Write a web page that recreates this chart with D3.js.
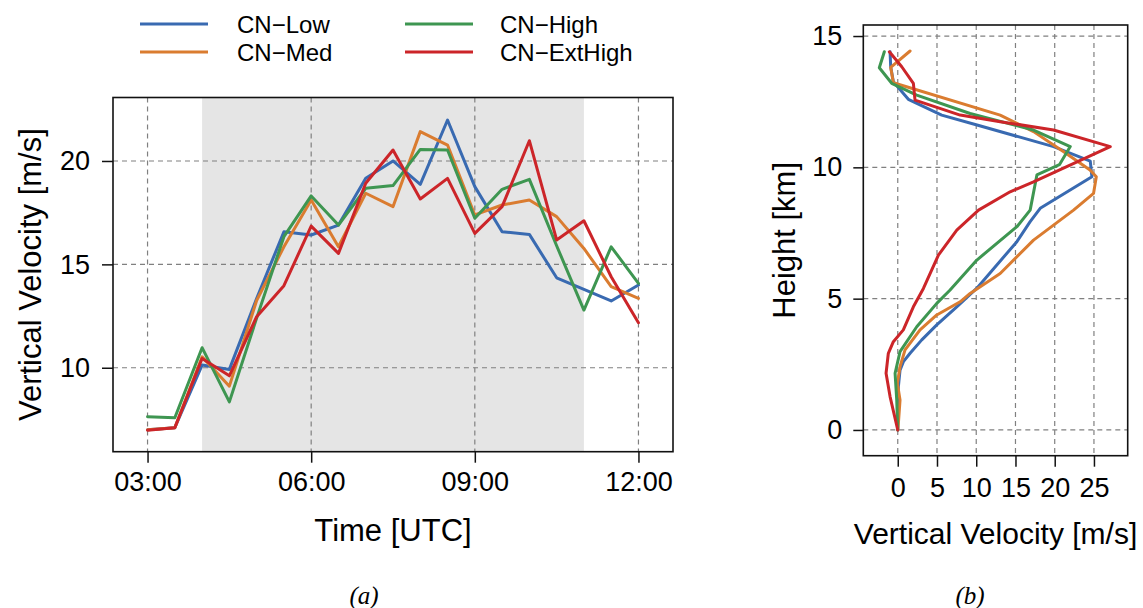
<!DOCTYPE html>
<html>
<head>
<meta charset="utf-8">
<script src="https://cdn.jsdelivr.net/npm/d3@7"></script>
<style>
  body { margin: 0; background: #fff; }
  text { font-family: "Liberation Sans", Arial, Helvetica, sans-serif; fill: #000; }
</style>
</head>
<body>
<svg id="fig" width="1143" height="608"></svg>
<script>
// ---- (a) time series of maximum vertical velocity ----
const times = ["03:00","03:30","04:00","04:30","05:00","05:30","06:00","06:30","07:00","07:30",
               "08:00","08:30","09:00","09:30","10:00","10:30","11:00","11:30","12:00"];
const cnLow     = [7.0, 7.1, 10.13, 9.92, 13.35, 16.58, 16.42, 16.9, 19.16, 20.0,
                   18.87, 21.98, 18.76, 16.58, 16.45, 14.35, 13.79, 13.23, 14.0];
const cnMed     = [7.0, 7.1, 10.53, 9.11, 13.25, 15.85, 18.11, 15.85, 18.44, 17.79,
                   21.42, 20.77, 17.39, 17.87, 18.11, 17.31, 15.77, 13.92, 13.35];
const cnHigh    = [7.63, 7.58, 10.97, 8.35, 12.4, 16.34, 18.31, 16.9, 18.68, 18.81,
                   20.56, 20.53, 17.23, 18.63, 19.11, 15.9, 12.79, 15.85, 14.08];
const cnExtHigh = [6.98, 7.10, 10.45, 9.61, 12.47, 13.97, 16.85, 15.53, 18.92, 20.53,
                   18.16, 19.16, 16.5, 17.79, 20.98, 16.18, 17.11, 14.4, 12.18];

const seriesNames  = ["CN\u2212Low", "CN\u2212Med", "CN\u2212High", "CN\u2212ExtHigh"];
const seriesColors = ["#396AB1", "#DA7C30", "#3E9651", "#CC2529"];

const timeTicks = ["03:00", "06:00", "09:00", "12:00"];
const shadeSpan = ["04:00", "11:00"];
const velTicks  = [10, 15, 20];

// ---- (b) vertical profiles: velocity (m/s) against height (km) ----
const lowW  = [0, 0, 0.08, 0.29, 0.72, 1.57, 3.06, 4.97, 7.52, 10.08, 15.18, 16.87, 18.15, 24.74, 24.53, 19.85, 10.1, 5.6, 1.35, -0.56, -0.9, -0.98];
const lowZ  = [0, 0.89, 1.65, 2.28, 2.6, 2.92, 3.43, 4.0, 4.69, 5.4, 7.17, 7.93, 8.44, 9.64, 10.24, 10.79, 11.61, 11.99, 12.59, 13.26, 13.83, 14.40];
const medW  = [0, 0.08, 0.29, -0.05, 0.29, 0.93, 2.84, 4.97, 7.95, 9.22, 13.05, 17.3, 22.4, 24.95, 25.3, 24.5, 21.1, 17.3, 13.05, -0.56, -0.9, 1.57];
const medZ  = [0, 0.25, 1.14, 1.78, 2.41, 3.05, 3.81, 4.38, 4.88, 5.2, 5.96, 7.23, 8.37, 9.01, 9.64, 9.9, 10.6, 11.36, 11.99, 13.22, 13.81, 14.43];
const highW = [0, -0.13, -0.34, 0.29, 2.42, 4.97, 6.67, 10.08, 15.18, 16.87, 17.73, 20.6, 21.98, 17.3, 9.22, 2.42, -0.77, -2.35, -1.71];
const highZ = [0, 1.14, 2.16, 2.98, 3.93, 4.82, 5.33, 6.47, 7.74, 8.37, 9.71, 10.1, 10.79, 11.42, 12.05, 12.75, 13.2, 13.79, 14.4];
const extW  = [0, -0.98, -1.49, -1.2, -0.56, 0.71, 1.99, 3.27, 5.18, 7.52, 10.29, 14.32, 17.3, 27.08, 19.85, 13.05, 7.95, 2.2, 1.99, 0.51, -1.07];
const extZ  = [0, 1.27, 2.16, 2.92, 3.36, 3.81, 4.69, 5.39, 6.66, 7.61, 8.37, 9.07, 9.45, 10.79, 11.42, 11.74, 11.99, 12.56, 13.2, 13.83, 14.4];

const profWTicks = [0, 5, 10, 15, 20, 25];
const profZTicks = [0, 5, 10, 15];

// ---------------------------------------------------------------
const svg = d3.select("#fig");
const parseTime = d3.timeParse("%H:%M");
const gridStyle = sel => sel.attr("stroke", "#808080").attr("stroke-width", 1.2)
                            .attr("stroke-dasharray", "5,4").attr("fill", "none");
const lineCurve = d3.line().x(d => d[0]).y(d => d[1]);

// Panel (a) frame
const A = { x: 113, y: 97.5, w: 560, h: 354.2 };
const tParsed = times.map(parseTime);
const xA = d3.scaleTime()
  .domain([d3.timeMinute.offset(tParsed[0], -38), d3.timeMinute.offset(tParsed[tParsed.length - 1], 38)])
  .range([A.x, A.x + A.w]);
const yA = d3.scaleLinear().domain([5.94, 23.07]).range([A.y + A.h, A.y]);

const gA = svg.append("g");
gA.append("rect")
  .attr("x", xA(parseTime(shadeSpan[0]))).attr("y", A.y)
  .attr("width", xA(parseTime(shadeSpan[1])) - xA(parseTime(shadeSpan[0])))
  .attr("height", A.h).attr("fill", "#e5e5e5");

gA.selectAll(".vg").data(timeTicks).join("line")
  .attr("x1", d => xA(parseTime(d))).attr("x2", d => xA(parseTime(d)))
  .attr("y1", A.y).attr("y2", A.y + A.h).call(gridStyle);
gA.selectAll(".hg").data(velTicks).join("line")
  .attr("x1", A.x).attr("x2", A.x + A.w)
  .attr("y1", d => yA(d)).attr("y2", d => yA(d)).call(gridStyle);

[cnLow, cnMed, cnHigh, cnExtHigh].forEach((vals, k) => {
  gA.append("path")
    .attr("d", lineCurve(vals.map((v, i) => [xA(tParsed[i]), yA(v)])))
    .attr("fill", "none").attr("stroke", seriesColors[k]).attr("stroke-width", 3)
    .attr("stroke-linejoin", "round").attr("stroke-linecap", "round");
});

gA.append("rect").attr("x", A.x).attr("y", A.y).attr("width", A.w).attr("height", A.h)
  .attr("fill", "none").attr("stroke", "#111").attr("stroke-width", 1.6);

const axA_x = gA.append("g").attr("transform", `translate(0,${A.y + A.h})`)
  .call(d3.axisBottom(xA).tickValues(timeTicks.map(parseTime))
        .tickFormat(d3.timeFormat("%H:%M")).tickSize(11).tickPadding(9));
const axA_y = gA.append("g").attr("transform", `translate(${A.x},0)`)
  .call(d3.axisLeft(yA).tickValues(velTicks).tickSize(11).tickPadding(12));

// Panel (b) frame
const B = { x: 863.3, y: 25, w: 264.4, h: 430.7 };
const xB = d3.scaleLinear().domain([-4.39, 29.3]).range([B.x, B.x + B.w]);
const yB = d3.scaleLinear().domain([-0.98, 15.42]).range([B.y + B.h, B.y]);

const gB = svg.append("g");
gB.selectAll(".vg").data(profWTicks).join("line")
  .attr("x1", d => xB(d)).attr("x2", d => xB(d))
  .attr("y1", B.y).attr("y2", B.y + B.h).call(gridStyle);
gB.selectAll(".hg").data(profZTicks).join("line")
  .attr("x1", B.x).attr("x2", B.x + B.w)
  .attr("y1", d => yB(d)).attr("y2", d => yB(d)).call(gridStyle);

[[lowW, lowZ], [medW, medZ], [highW, highZ], [extW, extZ]].forEach(([w, z], k) => {
  gB.append("path")
    .attr("d", lineCurve(w.map((v, i) => [xB(v), yB(z[i])])))
    .attr("fill", "none").attr("stroke", seriesColors[k]).attr("stroke-width", 3)
    .attr("stroke-linejoin", "round").attr("stroke-linecap", "round");
});

gB.append("rect").attr("x", B.x).attr("y", B.y).attr("width", B.w).attr("height", B.h)
  .attr("fill", "none").attr("stroke", "#111").attr("stroke-width", 1.6);

const axB_x = gB.append("g").attr("transform", `translate(0,${B.y + B.h})`)
  .call(d3.axisBottom(xB).tickValues(profWTicks).tickSize(11).tickPadding(11));
const axB_y = gB.append("g").attr("transform", `translate(${B.x},0)`)
  .call(d3.axisLeft(yB).tickValues(profZTicks).tickSize(10).tickPadding(11));

[axA_x, axA_y, axB_x, axB_y].forEach(ax => {
  ax.select(".domain").remove();
  ax.selectAll(".tick line").attr("stroke", "#111").attr("stroke-width", 1.5);
  ax.selectAll(".tick text").attr("font-size", 27).attr("fill", "#000")
    .style("font-family", '"Liberation Sans", Arial, sans-serif');
});

// Axis titles
svg.append("text").attr("x", A.x + A.w / 2).attr("y", 541)
  .attr("text-anchor", "middle").attr("font-size", 31).text("Time [UTC]");
svg.append("text").attr("transform", `translate(41,${A.y + A.h / 2}) rotate(-90)`)
  .attr("text-anchor", "middle").attr("font-size", 31).text("Vertical Velocity [m/s]");
svg.append("text").attr("x", B.x + B.w / 2).attr("y", 544)
  .attr("text-anchor", "middle").attr("font-size", 30).text("Vertical Velocity [m/s]");
svg.append("text").attr("transform", `translate(795,${B.y + B.h / 2}) rotate(-90)`)
  .attr("text-anchor", "middle").attr("font-size", 31).text("Height [km]");

// Legend (two columns above panel a)
const legendPos = [[140, 24], [140, 52], [405, 24], [405, 52]];
seriesNames.forEach((name, k) => {
  const [lx, ly] = legendPos[k];
  svg.append("line").attr("x1", lx).attr("x2", lx + 68).attr("y1", ly).attr("y2", ly)
    .attr("stroke", seriesColors[k]).attr("stroke-width", 3);
  svg.append("text").attr("x", lx + 97 - (k >= 2 ? 2 : 0)).attr("y", ly + 8.5)
    .attr("font-size", 24).attr("textLength", null).text(name);
});

// Sub-figure captions
[["(a)", 364], ["(b)", 970]].forEach(([t, cx]) => {
  svg.append("text").attr("x", cx).attr("y", 604).attr("text-anchor", "middle")
    .attr("font-size", 25).attr("font-style", "italic")
    .style("font-family", '"Liberation Serif", "DejaVu Serif", serif').text(t);
});
</script>
</body>
</html>
